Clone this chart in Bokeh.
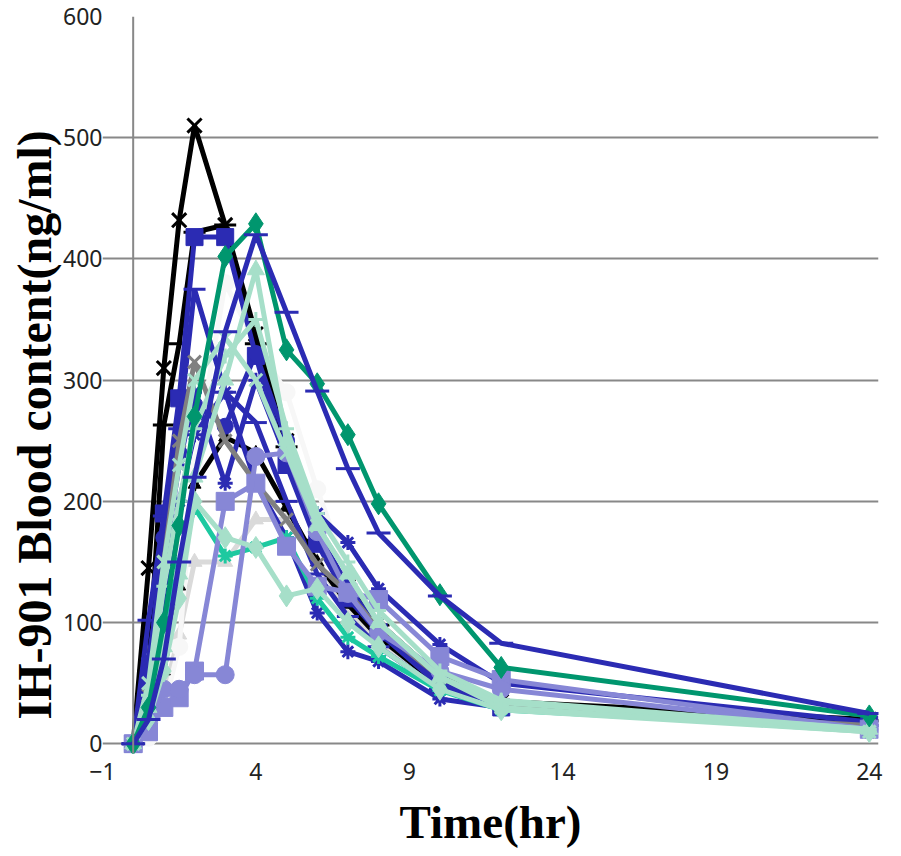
from bokeh.plotting import figure
from bokeh.models import Range1d, FixedTicker, Span, Title
from bokeh.embed import file_html
from bokeh.resources import INLINE

time_hr = [0, 0.5, 1, 1.5, 2, 3, 4, 5, 6, 7, 8, 10, 12, 24]
y_ticks = [0, 100, 200, 300, 400, 500, 600]
x_ticks = [-1, 4, 9, 14, 19, 24]

s01_black_x = [0, 145, 310, 432, 510, 428, 338, 250, 170, 130, 100, 55, 35, 20]
s02_black_dash = [0, 60, 263, 330, 422, 428, 330, 245, 168, 128, 98, 52, 34, 19]
s03_black_tri = [0, 40, 60, 130, 214, 253, 240, 195, 150, 115, 88, 48, 30, 16]
s04_blue_square = [0, 50, 190, 285, 418, 418, 320, 230, 165, 120, 92, 48, 30, 16]
s05_blue_dash2 = [0, 102, 188, 260, 375, 290, 265, 200, 140, 105, 80, 45, 30, 15]
s06_blue_star = [0, 30, 120, 200, 255, 290, 215, 170, 108, 76, 68, 37, 30, 14]
s07_blue_circle = [0, 60, 170, 240, 280, 262, 322, 250, 175, 130, 95, 50, 32, 15]
s08_blue_cross = [0, 70, 150, 230, 290, 215, 300, 235, 190, 166, 128, 82, 50, 18]
s09_gray_x = [0, 40, 150, 250, 315, 250, 215, 185, 148, 125, 95, 55, 32, 15]
s10_teal_star = [0, 30, 95, 150, 195, 155, 162, 170, 120, 88, 72, 44, 28, 12]
s11_lightgray_tri = [0, 5, 40, 90, 150, 150, 185, 185, 150, 110, 85, 50, 30, 10]
s12_purple_square = [0, 10, 30, 38, 60, 200, 215, 163, 130, 125, 119, 72, 53, 12]
s13_purple_circle = [0, 20, 45, 45, 57, 57, 237, 240, 175, 124, 92, 60, 45, 12]
s14_white_circle = [0, 5, 30, 80, 230, 380, 330, 290, 210, 140, 100, 55, 35, 12]
s15_mint_diamond = [0, 20, 60, 120, 200, 170, 162, 122, 128, 100, 80, 45, 28, 10]
s16_mint_x = [0, 50, 150, 230, 300, 335, 300, 240, 180, 140, 100, 55, 30, 10]
s17_mint_tri = [0, 30, 80, 140, 220, 300, 391, 250, 180, 140, 100, 55, 34, 12]
s18_mint_plain = [0, 40, 130, 200, 260, 320, 350, 260, 190, 150, 110, 60, 36, 12]
s19_green_diamond = [0, 30, 100, 180, 270, 402, 429, 325, 297, 255, 198, 123, 63, 23]
s20_blue_dash = [0, 20, 70, 150, 220, 340, 420, 356, 291, 227, 174, 122, 83, 25]

BLACK = "#000000"
BLUE = "#2B2BB3"
GREEN = "#00966E"
TEAL = "#1DC9A0"
GRAY = "#808080"
MINT = "#A6DFC9"
PURPLE = "#8787D6"
LGRAY = "#DADADA"
WHITE = "#F7F7F7"

series = [
    (s11_lightgray_tri, LGRAY, "triangle", 15),
    (s14_white_circle, WHITE, "circle", 17),
    (s03_black_tri, BLACK, "triangle", 13),
    (s02_black_dash, BLACK, "dash", 22),
    (s01_black_x, BLACK, "x", 20),
    (s04_blue_square, BLUE, "square", 17),
    (s05_blue_dash2, BLUE, "dash", 22),
    (s06_blue_star, BLUE, "asterisk", 15),
    (s07_blue_circle, BLUE, "circle", 16),
    (s08_blue_cross, BLUE, "asterisk", 15),
    (s09_gray_x, GRAY, "x", 18),
    (s10_teal_star, TEAL, "asterisk", 15),
    (s12_purple_square, PURPLE, "square", 18),
    (s13_purple_circle, PURPLE, "circle", 18),
    (s15_mint_diamond, MINT, "diamond", 22),
    (s16_mint_x, MINT, "x", 18),
    (s17_mint_tri, MINT, "triangle", 17),
    (s18_mint_plain, MINT, "cross", 15),
    (s19_green_diamond, GREEN, "diamond", 22),
    (s20_blue_dash, BLUE, "dash", 24),
]

p = figure(width=885, height=850, output_backend="svg", toolbar_location=None,
           x_range=Range1d(-1, 24.3), y_range=Range1d(-8, 600),
           min_border_left=102, min_border_right=7, min_border_top=16, min_border_bottom=97)
p.outline_line_color = None
p.background_fill_color = "white"

p.xgrid.grid_line_color = None
p.ygrid.grid_line_color = "#888888"
p.ygrid.grid_line_width = 2
p.ygrid.ticker = FixedTicker(ticks=y_ticks)

for ax in (p.xaxis[0], p.yaxis[0]):
    ax.axis_line_color = None
    ax.major_tick_line_color = None
    ax.minor_tick_line_color = None
    ax.major_tick_out = 0
    ax.major_tick_in = 0
    ax.minor_tick_out = 0
    ax.minor_tick_in = 0
    ax.major_label_text_font = "Noto Sans"
    ax.major_label_text_font_size = "23px"
    ax.major_label_text_color = "#222222"

p.yaxis[0].ticker = FixedTicker(ticks=y_ticks)
p.yaxis[0].major_label_standoff = 0
p.yaxis[0].axis_label_standoff = 0
p.xaxis[0].ticker = FixedTicker(ticks=x_ticks)
p.xaxis[0].major_label_overrides = {-1: "\u22121"}
p.xaxis[0].major_label_standoff = 9

p.xaxis[0].axis_label = "Time(hr)"
p.xaxis[0].axis_label_text_font = "Liberation Serif"
p.xaxis[0].axis_label_text_font_style = "bold"
p.xaxis[0].axis_label_text_font_size = "47px"
p.xaxis[0].axis_label_text_color = "#000000"
p.xaxis[0].axis_label_standoff = 13

p.add_layout(Title(text="IH-901 Blood content(ng/ml)", align="left", offset=34,
                   text_font="Liberation Serif", text_font_style="bold",
                   text_font_size="48px", text_color="#000000", standoff=0), "left")

p.add_layout(Span(location=0, dimension="height", line_color="#888888", line_width=2))

for vals, col, mk, sz in series:
    p.line(time_hr, vals, line_color=col, line_width=5)
    if mk in ("x", "dash", "asterisk", "cross"):
        p.scatter(time_hr, vals, marker=mk, size=sz, line_color=col, line_width=3)
    else:
        p.scatter(time_hr, vals, marker=mk, size=sz, fill_color=col, line_color=col)

open("out.html", "w").write(file_html(p, INLINE))
